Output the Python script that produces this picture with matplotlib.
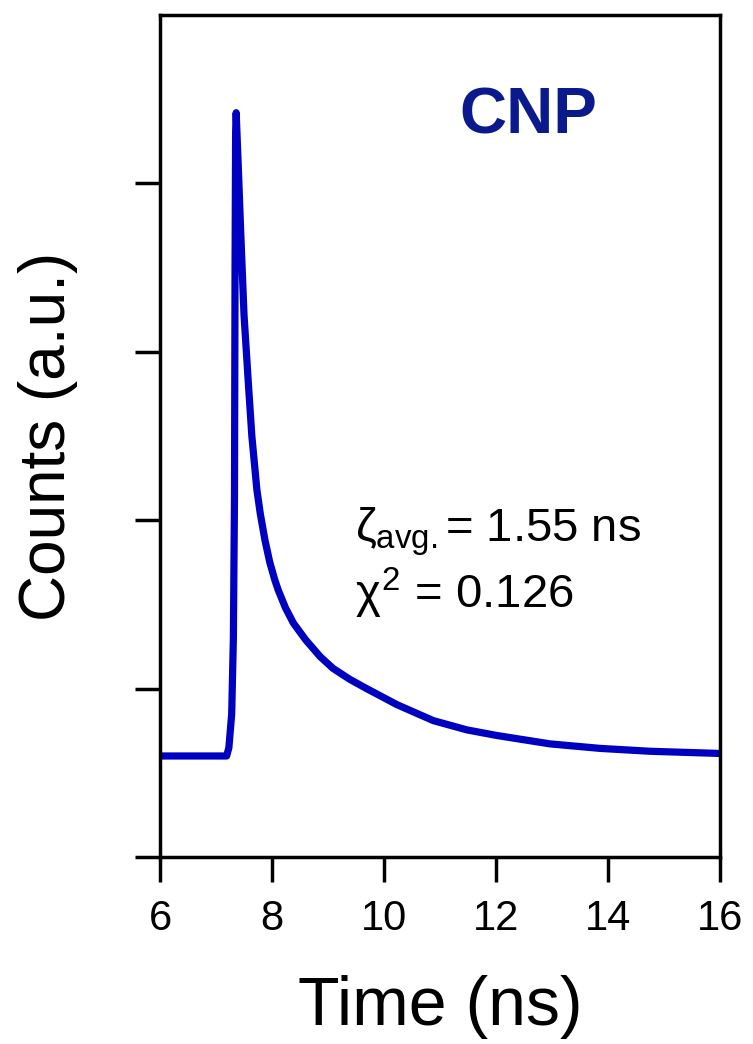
import numpy as np
import matplotlib
matplotlib.use("Agg")
import matplotlib.pyplot as plt

plt.rcParams['font.family'] = ['Liberation Sans', 'DejaVu Sans']
plt.rcParams['mathtext.fontset'] = 'custom'
plt.rcParams['mathtext.rm'] = 'Liberation Sans'
plt.rcParams['mathtext.it'] = 'Liberation Sans'
plt.rcParams['mathtext.bf'] = 'Liberation Sans:bold'

# PL decay trace (time in ns, counts in arbitrary units)
time_ns = [6.0, 7.19, 7.23, 7.28, 7.31, 7.33, 7.34, 7.35, 7.36,
           7.40, 7.44, 7.50, 7.58, 7.64, 7.73, 7.79, 7.875, 7.96,
           8.05, 8.11, 8.24, 8.38, 8.60, 8.86, 9.09, 9.39, 9.69,
           10.23, 10.88, 11.48, 12.01, 12.96, 13.86, 14.75, 16.0]
counts = [0.60, 0.60, 0.65, 0.85, 1.30, 2.14, 3.50, 4.30, 4.42,
          4.08, 3.72, 3.22, 2.80, 2.50, 2.18, 2.04, 1.88, 1.75,
          1.645, 1.586, 1.48, 1.39, 1.29, 1.19, 1.12, 1.055, 1.00,
          0.905, 0.81, 0.755, 0.722, 0.672, 0.645, 0.628, 0.615]

x_ticks = [6, 8, 10, 12, 14, 16]
y_ticks = [0, 1, 2, 3, 4]

fig = plt.figure(figsize=(7.53, 10.44), dpi=100)
ax = fig.add_axes([0.2125, 0.1791, 0.7437, 0.8065])

ax.plot(time_ns, counts, color='#0000C0', lw=5.2, solid_joinstyle='round',
        solid_capstyle='butt')

ax.set_xlim(6, 16)
ax.set_ylim(0, 5)
ax.set_xticks(x_ticks)
ax.set_yticks(y_ticks)
ax.set_yticklabels([])
ax.tick_params(axis='both', direction='out', length=18, width=2.5,
               labelsize=30, pad=12)
for s in ax.spines.values():
    s.set_linewidth(2.5)

ax.set_xlabel("Time (ns)", fontsize=49, labelpad=26)
ax.set_ylabel("Counts (a.u.)", fontsize=46, labelpad=29)

fig.text(528 / 753, 1 - 117 / 1044, "CNP", fontsize=47, fontweight='bold',
         color='#0A1A8C', ha='center', va='center')
ax.text(0.348, 0.375, r"$\zeta_{\rm avg.}$= 1.55 ns", transform=ax.transAxes,
        fontsize=34, ha='left', va='baseline')
ax.text(0.348, 0.295, r"$\chi^2$ = 0.126", transform=ax.transAxes,
        fontsize=34, ha='left', va='baseline')

fig.savefig("out.png", dpi=100)
